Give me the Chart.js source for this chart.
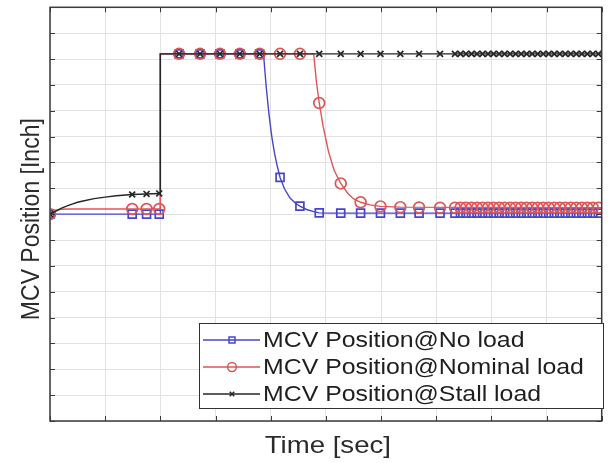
<!DOCTYPE html>
<html>
<head>
<meta charset="utf-8">
<script src="https://cdn.jsdelivr.net/npm/chart.js@4/dist/chart.umd.min.js"></script>
<style>
  html, body { margin: 0; padding: 0; background: #fff; }
  canvas { display: block; }
</style>
</head>
<body>
<canvas id="c" width="609" height="463"></canvas>
<script>
// ---- Simulation output, sampled at the solver's logged times ----
const sampleTimes = [0, 1.49, 1.75, 1.98, 2.34, 2.72, 3.08, 3.44, 3.80, 4.17, 4.53, 4.88,
  5.27, 5.63, 5.99, 6.35, 6.69, 7.07, 7.34, 7.44, 7.54, 7.64, 7.74, 7.84, 7.94, 8.04,
  8.14, 8.24, 8.34, 8.44, 8.54, 8.64, 8.74, 8.84, 8.94, 9.04, 9.14, 9.24, 9.34, 9.44,
  9.54, 9.64, 9.74, 9.84, 9.94];

const noLoadAtSamples = [8.0, 8.0, 8.0, 8.0, 14.2, 14.2, 14.2, 14.2, 14.2, 9.42, 8.31, 8.05,
  8.04, 8.04, 8.04, 8.04, 8.04, 8.04, 8.04, 8.04, 8.04, 8.04, 8.04, 8.04, 8.04, 8.04,
  8.04, 8.04, 8.04, 8.04, 8.04, 8.04, 8.04, 8.04, 8.04, 8.04, 8.04, 8.04, 8.04, 8.04,
  8.04, 8.04, 8.04, 8.04, 8.04];

const nominalAtSamples = [8.0, 8.2, 8.2, 8.2, 14.2, 14.2, 14.2, 14.2, 14.2, 14.2, 14.2, 12.3,
  9.19, 8.46, 8.3, 8.27, 8.26, 8.25, 8.25, 8.25, 8.25, 8.25, 8.25, 8.25, 8.25, 8.25,
  8.25, 8.25, 8.25, 8.25, 8.25, 8.25, 8.25, 8.25, 8.25, 8.25, 8.25, 8.25, 8.25, 8.25,
  8.25, 8.25, 8.25, 8.25, 8.25];

const stallAtSamples = [8.0, 8.76, 8.78, 8.8, 14.2, 14.2, 14.2, 14.2, 14.2, 14.2, 14.2, 14.2,
  14.2, 14.2, 14.2, 14.2, 14.2, 14.2, 14.2, 14.2, 14.2, 14.2, 14.2, 14.2, 14.2, 14.2,
  14.2, 14.2, 14.2, 14.2, 14.2, 14.2, 14.2, 14.2, 14.2, 14.2, 14.2, 14.2, 14.2, 14.2,
  14.2, 14.2, 14.2, 14.2, 14.2];

// ---- Continuous traces (full solver resolution) ----
const noLoadCurveTime = [0, 2.0, 2.0, 3.87, 3.92, 3.97, 4.02, 4.07, 4.12, 4.17, 4.25, 4.35,
  4.45, 4.53, 4.65, 4.78, 4.88, 5.1, 5.4, 10];
const noLoadCurvePos = [8.0, 8.0, 14.2, 14.2, 12.9, 11.85, 11.0, 10.35, 9.85, 9.42, 8.98, 8.62,
  8.42, 8.31, 8.18, 8.1, 8.05, 8.04, 8.04, 8.04];

const nominalCurveTime = [0, 0.05, 0.1, 0.2, 0.35, 2.0, 2.0, 4.78, 4.83, 4.88, 4.95, 5.05,
  5.15, 5.27, 5.4, 5.5, 5.63, 5.8, 5.99, 6.35, 10];
const nominalCurvePos = [8.0, 8.1, 8.15, 8.19, 8.2, 8.2, 14.2, 14.2, 13.1, 12.3, 11.4, 10.4,
  9.7, 9.19, 8.8, 8.6, 8.46, 8.36, 8.3, 8.27, 8.25];

const stallCurveTime = [0, 0.1, 0.2, 0.3, 0.4, 0.5, 0.6, 0.8, 1.0, 1.2, 1.49, 1.75, 1.98,
  2.0, 2.0, 10];
const stallCurvePos = [8.0, 8.11, 8.22, 8.31, 8.39, 8.46, 8.51, 8.6, 8.66, 8.71, 8.76, 8.78,
  8.8, 8.8, 14.2, 14.2];

const seriesNames = ['MCV Position@No load', 'MCV Position@Nominal load', 'MCV Position@Stall load'];
const xTitle = 'Time [sec]';
const yTitle = 'MCV Position [Inch]';

// ---- Styling ----
const BLUE = '#4646cc';
const RED = '#de5656';
const BLACK = '#262626';
const FONT = '"Liberation Sans", Arial, Helvetica, sans-serif';

const pairs = (xs, ys) => xs.map((x, i) => ({ x: x, y: ys[i] }));

const series = [
  { name: seriesNames[0], color: BLUE, style: 'rect', radius: 5.6, legendRadius: 4.2,
    curve: pairs(noLoadCurveTime, noLoadCurvePos), marks: pairs(sampleTimes, noLoadAtSamples) },
  { name: seriesNames[1], color: RED, style: 'circle', radius: 5.4, legendRadius: 4.4,
    curve: pairs(nominalCurveTime, nominalCurvePos), marks: pairs(sampleTimes, nominalAtSamples) },
  { name: seriesNames[2], color: BLACK, style: 'crossRot', radius: 4.2, legendRadius: 3.2,
    curve: pairs(stallCurveTime, stallCurvePos), marks: pairs(sampleTimes, stallAtSamples) }
];

const datasets = [];
series.forEach((s, i) => {
  const base = 10 - i * 3; // later series are drawn on top
  datasets.push({
    label: s.name, data: s.curve, showLine: true, borderColor: s.color, borderWidth: 1.4,
    pointRadius: 0, fill: false, order: base
  });
  datasets.push({
    label: s.name + ' markers', data: s.marks, showLine: false, pointStyle: s.style,
    pointRadius: s.radius, pointBorderWidth: 1.7, pointBorderColor: s.color,
    pointBackgroundColor: 'rgba(0,0,0,0)', order: base - 1
  });
});

function stretchedText(ctx, text, x, y, sx, align, baseline) {
  ctx.save();
  ctx.translate(x, y);
  ctx.scale(sx, 1);
  ctx.textAlign = align;
  ctx.textBaseline = baseline;
  ctx.fillText(text, 0, 0);
  ctx.restore();
}

// Axes box with inward tick marks on all four sides
const axesFrame = {
  id: 'axesFrame',
  afterDatasetsDraw(chart) {
    const { ctx, chartArea: a, scales } = chart;
    ctx.save();
    ctx.strokeStyle = '#3a3a3a';
    ctx.lineWidth = 1;
    ctx.beginPath();
    scales.x.ticks.forEach(t => {
      const px = Math.round(scales.x.getPixelForValue(t.value)) + 0.5;
      ctx.moveTo(px, a.bottom); ctx.lineTo(px, a.bottom - 5);
      ctx.moveTo(px, a.top); ctx.lineTo(px, a.top + 5);
    });
    scales.y.ticks.forEach(t => {
      const py = Math.round(scales.y.getPixelForValue(t.value)) + 0.5;
      ctx.moveTo(a.left, py); ctx.lineTo(a.left + 5, py);
      ctx.moveTo(a.right, py); ctx.lineTo(a.right - 5, py);
    });
    ctx.stroke();
    ctx.lineWidth = 1.5;
    ctx.strokeRect(a.left, a.top, a.right - a.left, a.bottom - a.top);
    ctx.restore();
  }
};

// Axis titles and the boxed legend
const annotations = {
  id: 'annotations',
  afterDraw(chart) {
    const { ctx, chartArea: a } = chart;
    ctx.save();
    ctx.fillStyle = '#2b2b2b';
    ctx.font = '24px ' + FONT;
    stretchedText(ctx, xTitle, (a.left + a.right) / 2 + 2, 453, 1.15, 'center', 'alphabetic');

    ctx.save();
    ctx.translate(39, (a.top + a.bottom) / 2 + 5);
    ctx.rotate(-Math.PI / 2);
    ctx.scale(1, 1.14);
    ctx.font = '23px ' + FONT;
    ctx.textAlign = 'center';
    ctx.textBaseline = 'alphabetic';
    ctx.fillText(yTitle, 0, 0);
    ctx.restore();

    // legend
    const bx = 199.5, by = 323.5, bw = 404, bh = 85;
    ctx.fillStyle = '#ffffff';
    ctx.fillRect(bx, by, bw, bh);
    ctx.strokeStyle = '#333333';
    ctx.lineWidth = 1;
    ctx.strokeRect(bx, by, bw, bh);
    series.forEach((s, i) => {
      const cy = 340 + i * 27;
      ctx.strokeStyle = s.color;
      ctx.lineWidth = 1.3;
      ctx.beginPath();
      ctx.moveTo(203, cy); ctx.lineTo(260, cy);
      ctx.stroke();
      ctx.lineWidth = 1.5;
      ctx.fillStyle = 'rgba(0,0,0,0)';
      Chart.helpers.drawPoint(ctx, { pointStyle: s.style, radius: s.legendRadius, rotation: 0, borderWidth: 1.5 }, 232, cy);
      ctx.fillStyle = '#1e1e1e';
      ctx.font = '22px ' + FONT;
      stretchedText(ctx, s.name, 263, cy + 1, 1.13, 'left', 'middle');
    });
    ctx.restore();
  }
};

new Chart(document.getElementById('c'), {
  type: 'scatter',
  data: { datasets: datasets },
  options: {
    responsive: false,
    devicePixelRatio: 1,
    animation: false,
    layout: { padding: { left: 50, top: 5, right: 3, bottom: 42 } },
    plugins: { legend: { display: false }, tooltip: { enabled: false } },
    scales: {
      x: {
        type: 'linear', min: 0, max: 10,
        ticks: { display: false, stepSize: 1 },
        grid: { color: '#e2e2e2', lineWidth: 1, drawTicks: false },
        border: { display: false },
        title: { display: false }
      },
      y: {
        type: 'linear', min: 0, max: 16,
        ticks: { display: false, stepSize: 1 },
        grid: { color: '#e2e2e2', lineWidth: 1, drawTicks: false },
        border: { display: false },
        title: { display: false }
      }
    }
  },
  plugins: [axesFrame, annotations]
});
</script>
</body>
</html>
